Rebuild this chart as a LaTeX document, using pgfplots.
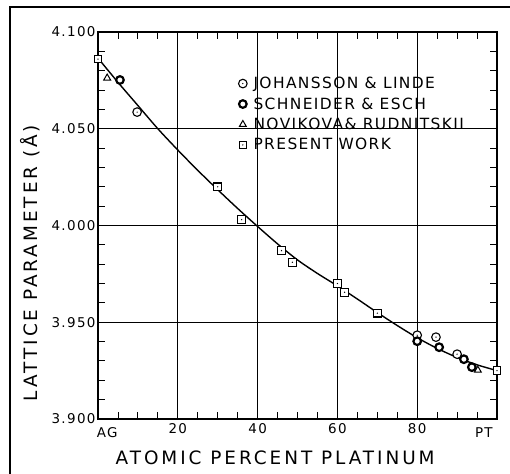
\documentclass[border=0pt]{standalone}
\usepackage{pgfplots}
\pgfplotsset{compat=1.18}
\usepackage{fontspec}
\setmainfont{DejaVu Sans}
\newfontfamily\lblfont[LetterSpace=16]{DejaVu Sans}
\newfontfamily\legfont[LetterSpace=9]{DejaVu Sans}
\newfontfamily\tickfont[LetterSpace=10]{DejaVu Sans}

\pgfdeclareplotmark{dsquare}{%
  \pgfpathrectangle{\pgfpoint{-\pgfplotmarksize}{-\pgfplotmarksize}}{\pgfpoint{2\pgfplotmarksize}{2\pgfplotmarksize}}%
  \pgfsetfillcolor{white}\pgfusepathqfillstroke
  \pgfpathcircle{\pgfpointorigin}{0.7bp}\pgfsetfillcolor{black}\pgfusepathqfill}
\pgfdeclareplotmark{dcircle}{%
  \pgfpathcircle{\pgfpointorigin}{\pgfplotmarksize}%
  \pgfsetfillcolor{white}\pgfusepathqfillstroke
  \pgfpathcircle{\pgfpointorigin}{0.7bp}\pgfsetfillcolor{black}\pgfusepathqfill}
\pgfdeclareplotmark{ring}{%
  \pgfpathcircle{\pgfpointorigin}{\pgfplotmarksize}%
  \pgfsetfillcolor{white}\pgfusepathqfillstroke}

\begin{document}
\begin{tikzpicture}[x=1bp,y=1bp]
\path[use as bounding box] (0,0) rectangle (510,474);
\draw[line width=2.2bp] (10,0) -- (10,467) -- (510,467);
\begin{axis}[
  at={(98bp,55bp)}, anchor=south west, scale only axis,
  width=399bp, height=387bp,
  xmin=0, xmax=100, ymin=3.9, ymax=4.1,
  xtick={0,20,40,60,80,100}, xticklabels={,20,40,60,80,},
  ytick={3.9,3.95,4.0,4.05,4.1},
  yticklabels={3.900,3.950,4.000,4.050,4.100},
  minor xtick={5,10,15,25,30,35,45,50,55,65,70,75,85,90,95},
  minor ytick={3.91,3.92,3.93,3.94,3.96,3.97,3.98,3.99,4.01,4.02,4.03,4.04,4.06,4.07,4.08,4.09},
  tick align=inside, major tick length=0pt, minor tick length=7bp,
  grid=major, major grid style={black, line width=0.7bp},
  axis line style={line width=1.5bp},
  tick style={black, line width=0.9bp},
  ticklabel style={font=\tickfont\fontsize{13.5}{15}\selectfont},
  yticklabel style={xshift=1bp},
  xticklabel style={yshift=-1bp},
  clip=false,
  legend image code/.code={\draw[#1] plot coordinates {(0bp,0bp)}; \path (-5bp,0bp) (9bp,0bp);},
  legend style={at={(axis description cs:0.342,0.893)}, anchor=north west,
    draw=none, fill=none, font=\legfont\fontsize{15.5}{17}\selectfont,
    row sep=4.5bp, nodes={inner sep=1.5bp}},
  legend cell align=left,
]
\addplot[smooth, black, line width=1.4bp, forget plot] coordinates {
(0,4.0865) (5,4.0740) (10,4.0620) (15,4.0500) (20,4.0390) (25,4.0285)
(30,4.0185) (35,4.0088) (40,3.9995) (45,3.9905) (50,3.9822) (55,3.9752)
(60,3.9688) (65,3.9620) (70,3.9550) (75,3.9483) (80,3.9420) (85,3.9365)
(90,3.9318) (95,3.9280) (100,3.9250)};
\addplot[only marks, mark=dcircle, mark size=4.3bp, mark options={line width=1.1bp}] coordinates {
(9.8,4.0586) (80,3.9433) (84.7,3.9423) (90,3.9335)};
\addlegendentry{JOHANSSON \& LINDE}
\addplot[only marks, mark=ring, mark size=3.8bp, mark options={line width=2.2bp}] coordinates {
(5.5,4.0752) (80,3.9402) (85.5,3.9371) (91.7,3.9309) (93.7,3.9268)};
\addlegendentry{SCHNEIDER \& ESCH}
\addplot[only marks, mark=triangle*, mark size=4bp, mark options={line width=1bp, fill=white}] coordinates {
(2.3,4.0762) (95.2,3.9252)};
\addlegendentry{NOVIKOVA\& RUDNITSKII}
\addplot[only marks, mark=dsquare, mark size=3.8bp, mark options={line width=1.1bp}] coordinates {
(0,4.086) (30,4.020) (36,4.003) (46,3.987) (48.7,3.981) (60,3.970)
(61.8,3.9655) (70,3.9547) (100,3.925)};
\addlegendentry{PRESENT WORK}
\node[font=\tickfont\fontsize{13.5}{15}\selectfont] at (axis description cs:0.023,-0.036) {AG};
\node[font=\tickfont\fontsize{13.5}{15}\selectfont] at (axis description cs:0.967,-0.036) {PT};
\node[font=\lblfont\fontsize{18.5}{21}\selectfont] at (axis description cs:0.444,-0.101) {ATOMIC PERCENT PLATINUM};
\node[font=\lblfont\fontsize{18.5}{21}\selectfont, rotate=90] at (axis description cs:-0.170,0.403) {LATTICE PARAMETER (Å)};
\end{axis}
\end{tikzpicture}
\end{document}
